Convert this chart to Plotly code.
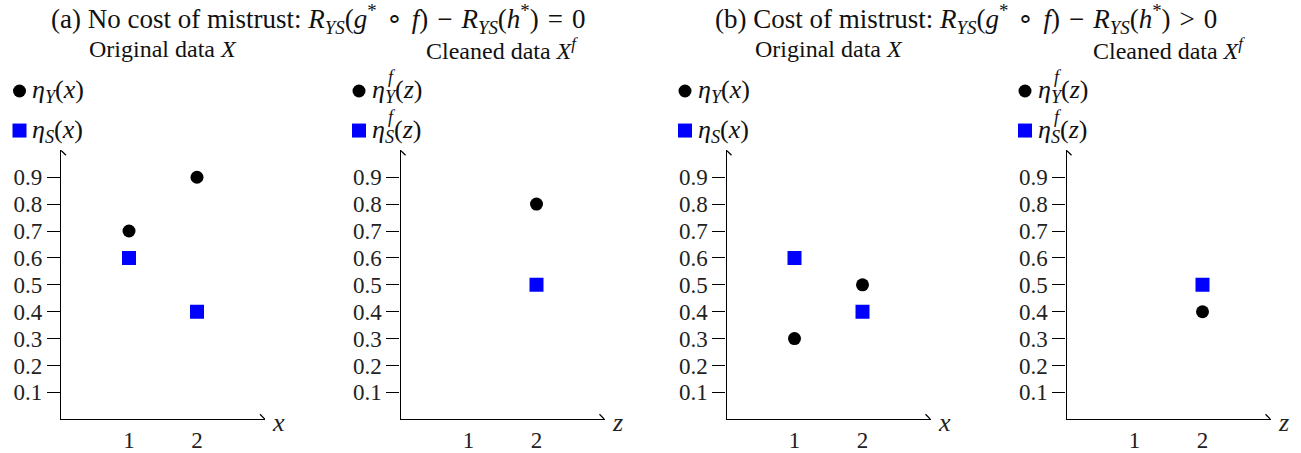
import plotly.graph_objects as go

W, H = 1301, 453

# ---------------- data ----------------
x_orig = [1, 2]
z_clean = [2]

a_eta_Y = [0.7, 0.9]
a_eta_S = [0.6, 0.4]
a_eta_Y_f = [0.8]
a_eta_S_f = [0.5]

b_eta_Y = [0.3, 0.5]
b_eta_S = [0.6, 0.4]
b_eta_Y_f = [0.4]
b_eta_S_f = [0.5]

y_ticks = [0.1, 0.2, 0.3, 0.4, 0.5, 0.6, 0.7, 0.8, 0.9]
x_ticks = [1, 2]

SP = "\u2004"  # three-per-em space, mimics TeX operator spacing
titles = [
    "(a) No cost of mistrust: <i>R</i><sub><i>YS</i></sub>(<i>g</i><sup>*</sup>" + SP + "∘" + SP
    + "<i>f</i>)" + SP + "−" + SP + "<i>R</i><sub><i>YS</i></sub>(<i>h</i><sup>*</sup>)" + SP + "=" + SP + "0",
    "(b) Cost of mistrust: <i>R</i><sub><i>YS</i></sub>(<i>g</i><sup>*</sup>" + SP + "∘" + SP
    + "<i>f</i>)" + SP + "−" + SP + "<i>R</i><sub><i>YS</i></sub>(<i>h</i><sup>*</sup>)" + SP + "&gt;" + SP + "0",
]
subtitles = ["Original data <i>X</i>", "Cleaned data <i>X</i><sup><i>f</i></sup>",
             "Original data <i>X</i>", "Cleaned data <i>X</i><sup><i>f</i></sup>"]
axis_letters = ["x", "z", "x", "z"]

panels = [
    dict(xs=x_orig, y1=a_eta_Y, y2=a_eta_S, var="x", cleaned=False),
    dict(xs=z_clean, y1=a_eta_Y_f, y2=a_eta_S_f, var="z", cleaned=True),
    dict(xs=x_orig, y1=b_eta_Y, y2=b_eta_S, var="x", cleaned=False),
    dict(xs=z_clean, y1=b_eta_Y_f, y2=b_eta_S_f, var="z", cleaned=True),
]

# ---------------- layout geometry (pixels) ----------------
axis_left = [61, 400.5, 726.5, 1066.5]
axis_w = 204
y_bottom, y_top = 424, 152

SERIF = "Liberation Serif, Times New Roman, serif"
BLACK = "#000000"
BLUE = "#0000FF"
TXT = "#111111"


def px(x):
    return x / W


def py(y):
    return 1 - y / H


fig = go.Figure()
shapes = []
annotations = []

for i, p in enumerate(panels):
    k = "" if i == 0 else str(i + 1)
    xa, ya = "x" + k, "y" + k
    fig.add_trace(go.Scatter(
        x=p["xs"], y=p["y1"], mode="markers", xaxis=xa, yaxis=ya,
        marker=dict(symbol="circle", size=13, color=BLACK),
        showlegend=False, hoverinfo="x+y"))
    fig.add_trace(go.Scatter(
        x=p["xs"], y=p["y2"], mode="markers", xaxis=xa, yaxis=ya,
        marker=dict(symbol="square", size=14, color=BLUE),
        showlegend=False, hoverinfo="x+y"))

    left = axis_left[i]
    axis_common = dict(showgrid=False, zeroline=False, showline=True,
                       linecolor=BLACK, linewidth=1.3, fixedrange=True,
                       tickfont=dict(family=SERIF, size=23, color="#222"))
    fig.layout["xaxis" + k] = dict(
        axis_common, domain=[px(left), px(left + axis_w)], range=[0, 3],
        anchor=ya, tickvals=x_ticks, ticks="", ticklen=0)
    fig.layout["yaxis" + k] = dict(
        axis_common, domain=[py(y_bottom), py(y_top)], range=[0, 1],
        anchor=xa, tickvals=y_ticks, ticktext=[f"{v:.1f}" for v in y_ticks],
        ticks="outside", ticklen=13, tickwidth=1.3, tickcolor=BLACK)

    # arrow tips
    shapes.append(dict(type="path", xref=xa, yref=ya, xsizemode="pixel", ysizemode="pixel",
                       xanchor=3, yanchor=0,
                       path="M -5,5 Q -1.5,1.5 0,0 Q -1.5,-1.5 -5,-5",
                       line=dict(color=BLACK, width=1.3)))
    shapes.append(dict(type="path", xref=xa, yref=ya, xsizemode="pixel", ysizemode="pixel",
                       xanchor=0, yanchor=1,
                       path="M -5,-5 Q -1.5,-1.5 0,0 Q 1.5,-1.5 5,-5",
                       line=dict(color=BLACK, width=1.3)))
    # axis letter
    annotations.append(dict(xref=xa, yref=ya, x=3, y=0, xanchor="left", yanchor="middle",
                            xshift=5, yshift=-3, text="<i>%s</i>" % axis_letters[i],
                            showarrow=False, font=dict(family=SERIF, size=26, color="#222")))
    # subtitle
    annotations.append(dict(xref="paper", yref="paper", x=px(left + axis_w / 2), y=py(50),
                            xanchor="center", yanchor="middle", text=subtitles[i],
                            showarrow=False, font=dict(family=SERIF, size=24, color=TXT)))

    # legend swatches
    mx = left - 41.5
    shapes.append(dict(type="circle", xref="paper", yref="paper", xsizemode="pixel",
                       ysizemode="pixel", xanchor=px(mx), yanchor=py(92),
                       x0=-6.5, x1=6.5, y0=-6.5, y1=6.5,
                       fillcolor=BLACK, line=dict(width=0)))
    shapes.append(dict(type="rect", xref="paper", yref="paper", xsizemode="pixel",
                       ysizemode="pixel", xanchor=px(mx), yanchor=py(132),
                       x0=-7, x1=7, y0=-7, y1=7,
                       fillcolor=BLUE, line=dict(width=0)))
    v = p["var"]
    tx = left - 31
    t1 = "<i>η</i><sub><i>Y</i></sub>(<i>%s</i>)" % v
    t2 = "<i>η</i><sub><i>S</i></sub>(<i>%s</i>)" % v
    for txt, yy in ((t1, 92), (t2, 132)):
        annotations.append(dict(xref="paper", yref="paper", x=px(tx), y=py(yy),
                                xanchor="left", yanchor="middle", text=txt, showarrow=False,
                                font=dict(family=SERIF, size=26, color=TXT)))
        if p["cleaned"]:
            annotations.append(dict(xref="paper", yref="paper", x=px(tx + 16), y=py(yy - 14),
                                    xanchor="left", yanchor="middle", text="<i>f</i>",
                                    showarrow=False,
                                    font=dict(family=SERIF, size=18, color=TXT)))

# titles
for j, cx in enumerate([318, 966]):
    annotations.append(dict(xref="paper", yref="paper", x=px(cx), y=py(19),
                            xanchor="center", yanchor="middle", text=titles[j],
                            showarrow=False, font=dict(family=SERIF, size=27, color=TXT)))

fig.update_layout(width=W, height=H, margin=dict(l=0, r=0, t=0, b=0),
                  paper_bgcolor="white", plot_bgcolor="white",
                  shapes=shapes, annotations=annotations, showlegend=False)

fig.write_html("out.html", config={"displayModeBar": False},
               post_script="document.body.style.margin='0';document.body.style.padding='0';")
